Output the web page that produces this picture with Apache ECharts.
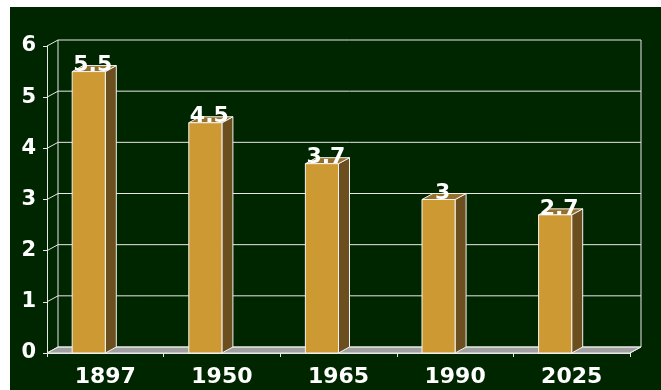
<!DOCTYPE html>
<html>
<head>
<meta charset="utf-8">
<script src="https://cdn.jsdelivr.net/npm/echarts@6/dist/echarts.min.js"></script>
<style>
  html, body { margin: 0; padding: 0; background: #ffffff; }
  #chart { position: absolute; left: 10px; top: 7px; width: 651px; height: 383px; }
</style>
</head>
<body>
<div id="chart"></div>
<script>
// Chart data
const years = ['1897', '1950', '1965', '1990', '2025'];
const values = [5.5, 4.5, 3.7, 3, 2.7];
const yTicks = [0, 1, 2, 3, 4, 5, 6];

// Pseudo-3D depth offset (px) for back wall, floor and bar sides
const DX = 11, DY = -6;
const FONT = '"DejaVu Sans", Verdana, sans-serif';
const LINE = '#e8e8e8';

const chart = echarts.init(document.getElementById('chart'));

// Back wall, floor and the connectors from the front axis to the wall
function renderFrame(params, api) {
  const band = api.size([1, 0])[0];
  const p0 = api.coord([0, 0]);
  const xl = p0[0] - band / 2;
  const xr = xl + band * years.length;
  const y0 = p0[1];
  const yTop = api.coord([0, yTicks[yTicks.length - 1]])[1];
  const children = [];
  // floor
  children.push({
    type: 'polygon',
    shape: { points: [[xl, y0], [xr, y0], [xr + DX, y0 + DY], [xl + DX, y0 + DY]] },
    style: { fill: '#a0a0a0', stroke: LINE, lineWidth: 1 }
  });
  // wall gridlines and tick connectors
  yTicks.forEach(v => {
    const y = api.coord([0, v])[1];
    children.push({
      type: 'line',
      shape: { x1: xl + DX, y1: y + DY, x2: xr + DX, y2: y + DY },
      style: { stroke: LINE, lineWidth: 1 }
    });
    children.push({
      type: 'line',
      shape: { x1: xl, y1: y, x2: xl + DX, y2: y + DY },
      style: { stroke: LINE, lineWidth: 1 }
    });
  });
  // wall verticals
  children.push({
    type: 'line',
    shape: { x1: xl + DX, y1: y0 + DY, x2: xl + DX, y2: yTop + DY },
    style: { stroke: LINE, lineWidth: 1 }
  });
  children.push({
    type: 'line',
    shape: { x1: xr + DX, y1: y0 + DY, x2: xr + DX, y2: yTop + DY },
    style: { stroke: LINE, lineWidth: 1 }
  });
  children.push({
    type: 'line',
    shape: { x1: xr, y1: y0, x2: xr + DX, y2: y0 + DY },
    style: { stroke: LINE, lineWidth: 1 }
  });
  return { type: 'group', children };
}

// Box-shaped bar: front face, right side and top, with the value above
function renderBar(params, api) {
  const idx = api.value(0);
  const val = api.value(1);
  const band = api.size([1, 0])[0];
  const w = band * 0.284;
  const top = api.coord([idx, val]);
  const base = api.coord([idx, 0]);
  const c = top[0];
  const yt = top[1], yb = base[1];
  const edge = { stroke: '#f4f4f4', lineWidth: 1 };
  return {
    type: 'group',
    children: [
      {
        type: 'polygon',
        shape: { points: [[c, yt], [c + DX, yt + DY], [c + DX, yb + DY], [c, yb]] },
        style: Object.assign({ fill: '#6b4f1f' }, edge)
      },
      {
        type: 'polygon',
        shape: { points: [[c - w, yt], [c, yt], [c + DX, yt + DY], [c - w + DX, yt + DY]] },
        style: Object.assign({ fill: '#94702c' }, edge)
      },
      {
        type: 'rect',
        shape: { x: c - w, y: yt, width: w, height: yb - yt },
        style: Object.assign({ fill: '#cc9933' }, edge)
      },
      {
        type: 'text',
        x: c - w / 2 + 4,
        y: yt + 5,
        style: {
          text: String(values[idx]),
          fill: '#ffffff',
          font: 'bold 22px ' + FONT,
          align: 'center',
          verticalAlign: 'bottom'
        }
      }
    ]
  };
}

chart.setOption({
  backgroundColor: '#002600',
  animation: false,
  grid: { left: 37, right: 31, top: 39, bottom: 37 },
  xAxis: {
    type: 'category',
    data: years,
    axisLine: { lineStyle: { color: LINE, width: 1 } },
    axisTick: { show: true, length: 4, lineStyle: { color: LINE } },
    axisLabel: {
      color: '#ffffff',
      fontFamily: FONT,
      fontWeight: 'bold',
      fontSize: 22,
      margin: 13
    },
    splitLine: { show: false }
  },
  yAxis: {
    type: 'value',
    min: 0,
    max: 6,
    interval: 1,
    axisLine: { show: true, lineStyle: { color: LINE, width: 1 } },
    axisTick: { show: true, length: 4, lineStyle: { color: LINE } },
    axisLabel: {
      color: '#ffffff',
      fontFamily: FONT,
      fontWeight: 'bold',
      fontSize: 21,
      margin: 11
    },
    splitLine: { show: false }
  },
  series: [
    {
      type: 'custom',
      name: 'frame',
      z: 1,
      renderItem: renderFrame,
      data: [[0, 0]],
      silent: true
    },
    {
      type: 'custom',
      name: 'bars',
      z: 3,
      renderItem: renderBar,
      data: values.map((v, i) => [i, v]),
      silent: true
    }
  ]
});
</script>
</body>
</html>
